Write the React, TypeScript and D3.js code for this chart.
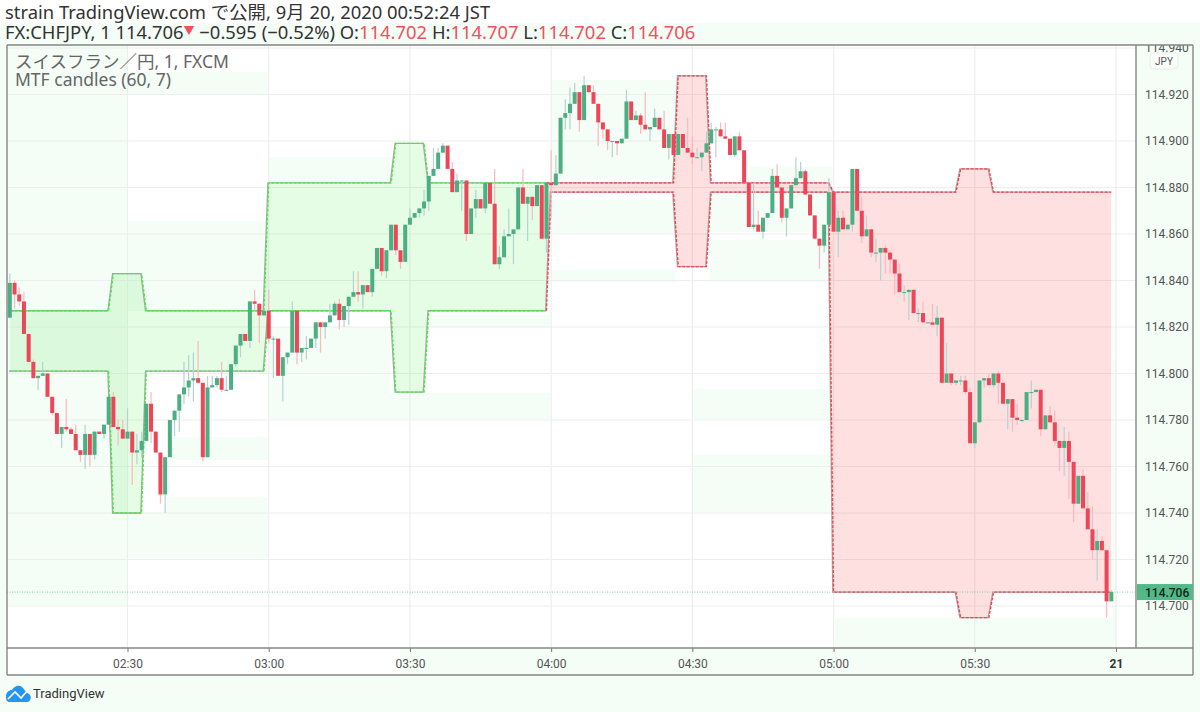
import { useEffect, useRef } from "react"
import * as d3 from "d3"

// Candle values are thousandths of a yen above 114.700, one bar per minute from 02:05
const basePrice = 114.7
const firstBarMinute = 125

const opens = [
  124, 139, 134, 131, 117, 105, 98, 99, 100, 90,
  83, 74, 77, 76, 74, 67, 65, 74, 65, 75,
  74, 78, 90, 77, 76, 72, 75, 66, 67, 71,
  87, 75, 66, 48, 64, 80, 84, 91, 94, 97,
  98, 96, 64, 94, 95, 98, 93, 93, 104, 112,
  117, 114, 131, 130, 125, 127, 115, 115, 99, 107,
  109, 127, 109, 111, 111, 115, 122, 120, 122, 125,
  130, 123, 129, 133, 135, 134, 138, 135, 145, 154,
  144, 153, 164, 153, 148, 164, 167, 169, 171, 174,
  185, 188, 195, 198, 188, 178, 183, 183, 160, 171,
  175, 171, 182, 173, 147, 150, 159, 160, 162, 180,
  173, 176, 172, 181, 158, 182, 181, 186, 210, 212,
  216, 221, 209, 224, 221, 216, 208, 205, 200, 200,
  199, 201, 217, 209, 211, 207, 205, 206, 210, 205,
  197, 203, 194, 203, 197, 195, 193, 193, 195, 199,
  205, 205, 202, 201, 194, 202, 196, 182, 163, 164,
  161, 167, 169, 185, 180, 167, 171, 181, 184, 187,
  177, 168, 158, 155, 164, 178, 161, 167, 162, 164,
  188, 170, 159, 162, 152, 152, 154, 152, 149, 143,
  135, 135, 136, 126, 126, 122, 122, 121, 124, 96,
  100, 96, 97, 97, 92, 70, 79, 97, 98, 95,
  100, 96, 87, 89, 81, 80, 80, 92, 92, 93,
  76, 82, 79, 71, 68, 71, 62, 44, 56, 42,
  33, 24, 28, 24, 2,
]
const closes = [
  139, 134, 131, 117, 105, 98, 99, 100, 90, 83,
  74, 77, 76, 74, 67, 65, 74, 65, 75, 74,
  78, 90, 77, 76, 72, 75, 66, 67, 71, 87,
  75, 66, 48, 64, 80, 84, 91, 94, 97, 98,
  96, 64, 94, 95, 98, 93, 93, 104, 112, 117,
  114, 131, 130, 125, 127, 115, 115, 99, 107, 109,
  127, 109, 111, 111, 115, 122, 120, 122, 125, 130,
  123, 129, 133, 135, 134, 138, 135, 145, 154, 144,
  153, 164, 153, 148, 164, 167, 169, 171, 174, 185,
  188, 195, 198, 188, 178, 183, 183, 160, 171, 175,
  171, 182, 173, 147, 150, 159, 160, 162, 180, 173,
  176, 172, 181, 158, 182, 181, 186, 210, 212, 216,
  221, 209, 224, 221, 216, 208, 205, 200, 200, 199,
  201, 217, 209, 211, 207, 205, 206, 210, 205, 197,
  203, 194, 203, 197, 195, 193, 193, 195, 199, 205,
  205, 202, 201, 194, 202, 196, 182, 163, 164, 161,
  167, 169, 185, 180, 167, 171, 181, 184, 187, 177,
  168, 158, 155, 164, 178, 161, 167, 162, 164, 188,
  170, 159, 162, 152, 152, 154, 152, 149, 143, 135,
  135, 136, 126, 126, 122, 122, 121, 124, 96, 100,
  96, 97, 97, 92, 70, 79, 97, 98, 95, 100,
  96, 87, 89, 81, 80, 80, 92, 92, 93, 76,
  82, 79, 71, 68, 71, 62, 44, 56, 42, 33,
  24, 28, 24, 2, 6,
]
const highs = [
  143, 140, 137, 135, 117, 106, 99, 105, 100, 90,
  83, 77, 89, 77, 78, 67, 78, 74, 75, 75,
  78, 90, 92, 80, 80, 85, 75, 74, 75, 87,
  92, 75, 66, 64, 80, 84, 91, 105, 108, 109,
  114, 96, 99, 99, 99, 105, 99, 104, 112, 117,
  117, 131, 136, 130, 127, 136, 116, 115, 107, 109,
  131, 127, 111, 116, 115, 122, 122, 122, 130, 131,
  132, 129, 133, 144, 144, 138, 138, 145, 154, 154,
  153, 164, 164, 153, 164, 171, 169, 171, 179, 185,
  197, 197, 199, 198, 191, 186, 183, 183, 171, 179,
  175, 182, 182, 188, 155, 162, 171, 162, 180, 188,
  176, 176, 181, 181, 182, 196, 194, 210, 218, 223,
  225, 221, 228, 224, 224, 216, 208, 205, 200, 200,
  201, 222, 217, 213, 212, 221, 206, 214, 210, 213,
  203, 203, 203, 203, 210, 202, 197, 195, 204, 208,
  206, 208, 208, 201, 202, 204, 196, 182, 182, 170,
  167, 169, 188, 190, 180, 171, 181, 193, 191, 188,
  177, 168, 158, 164, 184, 178, 170, 170, 164, 188,
  188, 176, 168, 162, 158, 154, 155, 153, 149, 147,
  138, 136, 136, 128, 131, 122, 130, 129, 124, 113,
  100, 97, 99, 99, 94, 79, 97, 98, 100, 100,
  101, 96, 89, 89, 87, 80, 92, 97, 93, 93,
  82, 86, 84, 71, 77, 75, 62, 56, 59, 49,
  43, 33, 30, 24, 7,
]
const lows = [
  124, 128, 129, 117, 105, 98, 93, 99, 90, 82,
  74, 68, 75, 74, 67, 62, 59, 60, 63, 74,
  72, 78, 77, 69, 72, 72, 52, 61, 64, 71,
  70, 66, 44, 40, 64, 73, 75, 87, 90, 88,
  96, 62, 64, 94, 94, 92, 93, 93, 103, 107,
  114, 111, 127, 113, 125, 113, 98, 99, 88, 104,
  109, 104, 105, 106, 111, 111, 109, 115, 122, 125,
  119, 120, 121, 133, 131, 128, 135, 133, 145, 142,
  141, 153, 151, 145, 148, 164, 167, 167, 168, 170,
  185, 188, 195, 188, 178, 178, 170, 157, 160, 167,
  171, 169, 173, 147, 145, 150, 159, 147, 162, 173,
  157, 166, 172, 158, 152, 167, 181, 186, 205, 205,
  216, 204, 209, 221, 216, 198, 201, 196, 193, 194,
  199, 201, 209, 209, 203, 205, 200, 206, 205, 197,
  192, 194, 194, 197, 195, 190, 193, 187, 195, 199,
  193, 202, 201, 194, 193, 196, 182, 163, 162, 161,
  158, 167, 169, 180, 165, 159, 171, 181, 184, 177,
  168, 158, 145, 152, 164, 161, 150, 162, 162, 161,
  170, 156, 159, 150, 148, 140, 143, 143, 134, 135,
  131, 123, 126, 122, 122, 122, 121, 116, 96, 96,
  95, 95, 95, 91, 70, 68, 79, 94, 95, 94,
  87, 87, 76, 75, 78, 79, 80, 85, 92, 73,
  76, 79, 69, 58, 56, 46, 36, 44, 42, 33,
  20, 11, 24, -5, 2,
]

// Hourly candles of the MTF candles study, same units
const hours = [2, 3, 4, 5]
const hourBodyTop = [127, 182, 182, 178]
const hourBodyBottom = [101, 127, 178, 6]
const hourHigh = [143, 199, 228, 188]
const hourLow = [40, 92, 146, -5]
const hourUp = [true, true, false, false]

const priceTicks = [114.7, 114.72, 114.74, 114.76, 114.78, 114.8, 114.82, 114.84, 114.86, 114.88, 114.9, 114.92, 114.94]
const timeTicks = [150, 180, 210, 240, 270, 300, 330, 360]
const lastClose = 114.706

const UP = "#4caf82"
const DOWN = "#ee4658"
const UP_WICK = "#b4d3d2"
const DOWN_WICK = "#fbb8be"
const WASH = "#f4fdf6"
const FONT = "Roboto, 'Noto Sans CJK JP', sans-serif"
const HEAD_FONT = "'Noto Sans', 'Noto Sans CJK JP', sans-serif"

const minuteDate = (m: number) => new Date(Date.UTC(2020, 8, 20, 0, m))

const App = () => {
  const svgRef = useRef<SVGSVGElement | null>(null)

  useEffect(() => {
    if (!svgRef.current) return
    const svg = d3.select(svgRef.current)
    svg.selectAll("*").remove()

    const plot = { left: 7, right: 1136, top: 45, bottom: 648, outerRight: 1193, outerBottom: 675 }

    const x = d3
      .scaleUtc()
      .domain([minuteDate(150), minuteDate(360)])
      .range([127.5, 1116])
    const y = d3.scaleLinear().domain([114.7, 114.94]).range([606, 48])
    const px = (i: number) => x(minuteDate(firstBarMinute + i))
    const py = (m: number) => y(basePrice + m / 1000)

    svg.append("rect").attr("width", 1200).attr("height", 712).attr("fill", "#fff")

    // Pale page wash around the chart
    const pageWash = [
      [0, 23, 1200, 22],
      [0, 676, 1200, 36],
      [1194, 45, 6, 631],
      [0, 45, 6, 631],
      [1137, 45, 56, 603],
      [400, 649, 793, 26],
    ]
    svg
      .selectAll(".page-wash")
      .data(pageWash)
      .join("rect")
      .attr("x", (d) => d[0])
      .attr("y", (d) => d[1])
      .attr("width", (d) => d[2])
      .attr("height", (d) => d[3])
      .attr("fill", WASH)

    const clip = svg.append("defs").append("clipPath").attr("id", "plot-clip")
    clip.append("rect").attr("x", plot.left).attr("y", plot.top).attr("width", 1190 - plot.left).attr("height", plot.bottom - plot.top)

    const g = svg.append("g").attr("clip-path", "url(#plot-clip)")

    // Pale patches in the plot background
    const plotWash = [
      [8, 45, 119, 560],
      [127, 72, 141, 23],
      [127, 221, 141, 90],
      [170, 437, 98, 23],
      [167, 497, 101, 61],
      [127, 513, 40, 45],
      [268, 157, 125, 25],
      [268, 327, 122, 66],
      [268, 393, 282, 26],
      [428, 315, 122, 12],
      [552, 80, 124, 100],
      [552, 200, 124, 33],
      [552, 270, 124, 12],
      [710, 192, 123, 40],
      [710, 240, 123, 42],
      [750, 167, 83, 15],
      [692, 389, 140, 30],
      [692, 455, 140, 57],
      [835, 618, 281, 30],
      [1112, 360, 5, 288],
    ]
    g.selectAll(".plot-wash")
      .data(plotWash)
      .join("rect")
      .attr("x", (d) => d[0])
      .attr("y", (d) => d[1])
      .attr("width", (d) => d[2])
      .attr("height", (d) => d[3])
      .attr("fill", WASH)

    // Grid
    g.selectAll(".grid-h")
      .data(priceTicks)
      .join("line")
      .attr("x1", plot.left)
      .attr("x2", plot.right)
      .attr("y1", (d) => y(d))
      .attr("y2", (d) => y(d))
      .attr("stroke", "#eeeeee")
      .attr("stroke-width", 1.2)
    g.selectAll(".grid-v")
      .data(timeTicks)
      .join("line")
      .attr("x1", (d) => x(minuteDate(d)))
      .attr("x2", (d) => x(minuteDate(d)))
      .attr("y1", plot.top)
      .attr("y2", plot.bottom)
      .attr("stroke", "#eeeeee")
      .attr("stroke-width", 1.2)

    // Hourly MTF candle shapes, one band per hour joined to the bar before it
    const bars = d3.range(opens.length)
    const hourOf = (i: number) => hours.indexOf(Math.floor((firstBarMinute + i) / 60))
    const inWick = (i: number) => Math.abs((firstBarMinute + i) % 60 - 30) <= 3
    const upper = (i: number) => (inWick(i) ? hourHigh[hourOf(i)] : hourBodyTop[hourOf(i)])
    const lower = (i: number) => (inWick(i) ? hourLow[hourOf(i)] : hourBodyBottom[hourOf(i)])

    const band = d3
      .area<number>()
      .x((i) => px(i))
      .y0((i) => py(lower(i)))
      .y1((i) => py(upper(i)))
    const upperLine = d3
      .line<number>()
      .x((i) => px(i))
      .y((i) => py(upper(i)))
    const lowerLine = d3
      .line<number>()
      .x((i) => px(i))
      .y((i) => py(lower(i)))

    hours.forEach((_, h) => {
      const own = bars.filter((i) => hourOf(i) === h)
      const segment = own[0] > 0 ? [own[0] - 1, ...own] : own
      const colour = hourUp[h] ? "#00e600" : "#ff0000"
      g.append("path")
        .datum(segment)
        .attr("d", band)
        .attr("fill", colour)
        .attr("fill-opacity", hourUp[h] ? 0.1 : 0.12)
      ;[upperLine, lowerLine].forEach((line) => {
        g.append("path")
          .datum(segment)
          .attr("d", line)
          .attr("fill", "none")
          .attr("stroke", "#a8a8a8")
          .attr("stroke-width", 1.3)
          .attr("transform", "translate(-0.8,0)")
        g.append("path")
          .datum(segment)
          .attr("d", line)
          .attr("fill", "none")
          .attr("stroke", hourUp[h] ? "#48e848" : "#f2404f")
          .attr("stroke-width", 1.3)
          .attr("stroke-dasharray", "3,1.5")
      })
    })

    // Last price line
    g.append("line")
      .attr("x1", plot.left)
      .attr("x2", plot.right)
      .attr("y1", y(lastClose))
      .attr("y2", y(lastClose))
      .attr("stroke", "#5cbf95")
      .attr("stroke-width", 0.8)
      .attr("stroke-dasharray", "1,1.5")

    // Candles
    g.selectAll(".wick")
      .data(bars)
      .join("line")
      .attr("x1", (i) => px(i))
      .attr("x2", (i) => px(i))
      .attr("y1", (i) => py(highs[i]))
      .attr("y2", (i) => py(lows[i]))
      .attr("stroke", (i) => (closes[i] >= opens[i] ? UP_WICK : DOWN_WICK))
      .attr("stroke-width", 1.2)
    g.selectAll(".body")
      .data(bars)
      .join("rect")
      .attr("x", (i) => px(i) - 2)
      .attr("width", 4)
      .attr("y", (i) => py(Math.max(opens[i], closes[i])))
      .attr("height", (i) => Math.max(1, Math.abs(py(opens[i]) - py(closes[i]))))
      .attr("fill", (i) => (closes[i] >= opens[i] ? UP : DOWN))

    // Price axis
    const priceAxis = svg
      .append("g")
      .attr("clip-path", "url(#plot-clip)")
      .attr("transform", `translate(${plot.right},0)`)
      .call(d3.axisRight(y).tickValues(priceTicks).tickFormat(d3.format(".3f")).tickSize(4).tickPadding(5))
    priceAxis.select(".domain").remove()
    priceAxis.selectAll("line").attr("stroke", "#777")
    priceAxis.selectAll("text").attr("font-family", FONT).attr("font-size", 12).attr("fill", "#555")

    // JPY badge
    svg
      .append("rect")
      .attr("x", 1150)
      .attr("y", 53)
      .attr("width", 28)
      .attr("height", 16)
      .attr("rx", 4)
      .attr("fill", "#fbfdfb")
      .attr("stroke", "#e8ece8")
    svg
      .append("text")
      .attr("x", 1164)
      .attr("y", 64.5)
      .attr("text-anchor", "middle")
      .attr("font-family", FONT)
      .attr("font-size", 10)
      .attr("fill", "#555")
      .text("JPY")

    // Time axis
    const timeAxis = svg
      .append("g")
      .attr("transform", `translate(0,${plot.bottom})`)
      .call(
        d3
          .axisBottom(x)
          .tickValues(timeTicks.map(minuteDate))
          .tickFormat((d) => (d.valueOf() === minuteDate(360).valueOf() ? "21" : d3.utcFormat("%H:%M")(d as Date)))
          .tickSize(4)
          .tickPadding(7),
      )
    timeAxis.select(".domain").remove()
    timeAxis.selectAll("line").attr("stroke", "#777")
    timeAxis.selectAll("text").attr("font-family", FONT).attr("font-size", 12).attr("fill", "#555")
    timeAxis
      .selectAll<SVGTextElement, Date>("text")
      .filter((d) => d.valueOf() === minuteDate(360).valueOf())
      .attr("font-weight", "bold")
      .attr("fill", "#333")

    // Frame
    const frame = [
      [plot.left, plot.top, plot.outerRight, plot.top],
      [plot.left, plot.top, plot.left, plot.outerBottom],
      [plot.left, plot.bottom, plot.outerRight, plot.bottom],
      [plot.left, plot.outerBottom, plot.outerRight, plot.outerBottom],
      [plot.right, plot.top, plot.right, plot.bottom],
      [plot.outerRight, plot.top, plot.outerRight, plot.outerBottom],
    ]
    svg
      .selectAll(".frame")
      .data(frame)
      .join("line")
      .attr("x1", (d) => d[0])
      .attr("y1", (d) => d[1])
      .attr("x2", (d) => d[2])
      .attr("y2", (d) => d[3])
      .attr("stroke", "#858585")
      .attr("stroke-width", 1.4)

    // Last price label
    svg
      .append("rect")
      .attr("x", plot.right + 1)
      .attr("y", y(lastClose) - 8)
      .attr("width", plot.outerRight - plot.right - 1)
      .attr("height", 16)
      .attr("fill", "#53b987")
    svg
      .append("text")
      .attr("x", plot.right + 9)
      .attr("y", y(lastClose) + 4.5)
      .attr("font-family", FONT)
      .attr("font-size", 12)
      .attr("font-weight", 500)
      .attr("fill", "#10261c")
      .text(d3.format(".3f")(lastClose))

    // Header
    svg
      .append("text")
      .attr("x", 5)
      .attr("y", 19)
      .attr("font-family", HEAD_FONT)
      .attr("font-size", 18.4)
      .attr("fill", "#333")
      .text("strain TradingView.com で公開, 9月 20, 2020 00:52:24 JST")

    const info = svg
      .append("text")
      .attr("x", 5)
      .attr("y", 39)
      .attr("font-family", HEAD_FONT)
      .attr("font-size", 18.4)
      .attr("fill", "#333")
    const red = "#f2505e"
    info.append("tspan").text("FX:CHFJPY, 1 114.706")
    info.append("tspan").attr("fill", red).attr("font-size", 11).attr("dy", -4).text("▼")
    info.append("tspan").attr("dy", 4).text(" −0.595 (−0.52%) O:")
    info.append("tspan").attr("fill", red).text("114.702")
    info.append("tspan").text(" H:")
    info.append("tspan").attr("fill", red).text("114.707")
    info.append("tspan").text(" L:")
    info.append("tspan").attr("fill", red).text("114.702")
    info.append("tspan").text(" C:")
    info.append("tspan").attr("fill", red).text("114.706")

    // Legend
    svg
      .append("text")
      .attr("x", 15)
      .attr("y", 68)
      .attr("font-family", HEAD_FONT)
      .attr("font-size", 17.5)
      .attr("fill", "#666")
      .text("スイスフラン／円, 1, FXCM")
    svg
      .append("text")
      .attr("x", 15)
      .attr("y", 86)
      .attr("font-family", HEAD_FONT)
      .attr("font-size", 17.5)
      .attr("fill", "#666")
      .text("MTF candles (60, 7)")

    // TradingView mark
    svg
      .append("path")
      .attr("d", "M6,697 C6,692 9,690 12,690 C14,686 20,684 23,688 C25,691 27,693 29,694 C32,696 31,702 27,702 L10,702 C7,702 6,700 6,697 Z")
      .attr("fill", "#2196f3")
    svg
      .append("path")
      .attr("d", "M8,699 L15,692 L21,698 L28,690")
      .attr("fill", "none")
      .attr("stroke", "#fff")
      .attr("stroke-width", 1.6)
    svg
      .append("text")
      .attr("x", 33)
      .attr("y", 698)
      .attr("font-family", FONT)
      .attr("font-size", 13)
      .attr("fill", "#333")
      .text("TradingView")
  }, [])

  return <svg ref={svgRef} width={1200} height={712} style={{ position: "absolute", left: 0, top: 0 }} />
}

export default App
